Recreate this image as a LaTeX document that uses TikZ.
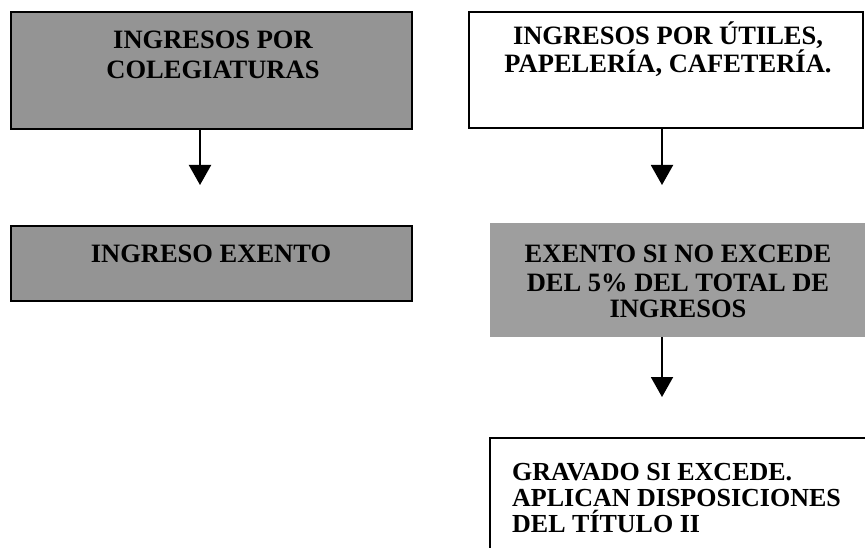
\documentclass[tikz,border=0pt]{standalone}
\usepackage{fontspec}
\setmainfont{Liberation Serif}
\usetikzlibrary{arrows.meta,positioning}

\begin{document}
\begin{tikzpicture}[x=1pt,y=-1pt,
    greybox/.style={draw=black,line width=2pt,fill=black!42,inner sep=0pt},
    whitebox/.style={draw=black,line width=1.6pt,fill=white,inner sep=0pt},
    flatgrey/.style={fill=black!38,inner sep=0pt},
    boxtext/.style={inner sep=0pt,align=center,font=\bfseries\fontsize{26.5}{24}\selectfont},
    flow/.style={line width=2pt,-{Triangle[width=22pt,length=20pt]}}
  ]
  \useasboundingbox (0,0) rectangle (865,548);
  \clip (0,0) rectangle (865,548);
  % boxes
  \node[greybox,minimum width=401pt,minimum height=117pt] (colegiaturas) at (211.5,70.5) {};
  \node[whitebox,minimum width=394pt,minimum height=116pt] (utiles) at (666,70) {};
  \node[greybox,minimum width=401pt,minimum height=75pt] (exento) at (211.5,263.5) {};
  \node[flatgrey,minimum width=377pt,minimum height=114pt] (excede) at (678.5,280) {};
  \node[whitebox,minimum width=400pt,minimum height=124pt] (gravado) at (690,500) {};
  % texts
  \node[boxtext,anchor=north] (colegiaturasT) at (213,31) {INGRESOS POR\\[6pt]COLEGIATURAS};
  \node[boxtext,anchor=north] (utilesT) at (668,22) {INGRESOS POR ÚTILES,\\PAPELERÍA, CAFETERÍA.};
  \node[boxtext,anchor=base] (exentoT) at (211,262) {INGRESO EXENTO};
  \node[boxtext,anchor=north] (excedeT) at (678,245) {EXENTO SI NO EXCEDE\\[5pt]DEL 5\% DEL TOTAL DE\\[2pt]INGRESOS};
  \node[boxtext,align=left,anchor=north west,font=\bfseries\fontsize{26}{26}\selectfont] (gravadoT) at (512,463) {GRAVADO SI EXCEDE.\\APLICAN DISPOSICIONES\\DEL TÍTULO II};
  % arrows
  \coordinate (tipA) at (200,185);
  \coordinate (tipB) at (662,185);
  \coordinate (tipC) at (662,397);
  \draw[flow] (colegiaturas.south -| tipA) -- (tipA);
  \draw[flow] (utiles.south -| tipB) -- (tipB);
  \draw[flow] (excede.south -| tipC) -- (tipC);
\end{tikzpicture}
\end{document}
